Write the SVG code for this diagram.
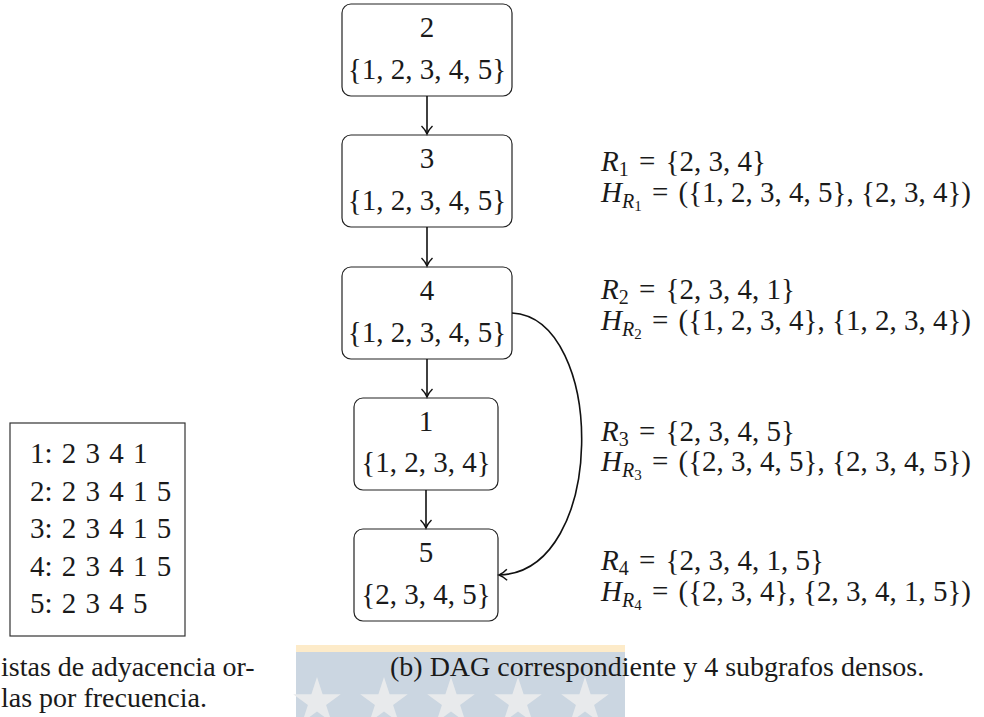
<svg xmlns="http://www.w3.org/2000/svg" width="984" height="717" viewBox="0 0 984 717" font-family="'Liberation Serif', 'Times New Roman', serif">
<style>
text { font-family: "Liberation Serif", "Times New Roman", serif; fill: #1a1a1a; }
.t { font-size: 29px; }
.c { font-size: 28px; }
.n { fill: #ffffff; stroke: #222222; stroke-width: 1.2; }
.e { fill: none; stroke: #111111; stroke-width: 1.6; }
.i { font-style: italic; }
.s { font-size: 20px; }
.ss { font-size: 15px; }
</style>
<defs>
<marker id="arr" markerWidth="14" markerHeight="14" viewBox="-10 -7 11 14" refX="0" refY="0" orient="auto" markerUnits="userSpaceOnUse">
<path d="M -8 -5.5 C -5 -2.4 -1.6 -0.6 0 0 C -1.6 0.6 -5 2.4 -8 5.5" fill="none" stroke="#111111" stroke-width="1.4"/>
</marker>
<polygon id="star" points="0,-25 5.61,-7.73 23.78,-7.73 9.08,2.95 14.69,20.23 0,9.55 -14.69,20.23 -9.08,2.95 -23.78,-7.73 -5.61,-7.73"/>
</defs>
<g id="watermark">
<rect x="296" y="645" width="329" height="8" fill="#fdebc9"/>
<rect x="296" y="652" width="329" height="65" fill="#cbd6e1"/>
<g fill="#e8eaec">
<use href="#star" x="317" y="702"/>
<use href="#star" x="384" y="702"/>
<use href="#star" x="451" y="702"/>
<use href="#star" x="518" y="702"/>
<use href="#star" x="585" y="702"/>
</g>
</g>
<g id="node2">
<rect class="n" x="342" y="4" width="170" height="92" rx="9"/>
<text class="t" x="427" y="37" text-anchor="middle">2</text>
<text class="t" x="427" y="79" text-anchor="middle">{1, 2, 3, 4, 5}</text>
</g>
<g id="node3">
<rect class="n" x="342" y="135" width="170" height="92" rx="9"/>
<text class="t" x="427" y="168" text-anchor="middle">3</text>
<text class="t" x="427" y="210" text-anchor="middle">{1, 2, 3, 4, 5}</text>
</g>
<g id="node4">
<rect class="n" x="342" y="267" width="170" height="92" rx="9"/>
<text class="t" x="427" y="300" text-anchor="middle">4</text>
<text class="t" x="427" y="342" text-anchor="middle">{1, 2, 3, 4, 5}</text>
</g>
<g id="node1">
<rect class="n" x="354" y="398" width="144" height="92" rx="9"/>
<text class="t" x="426" y="431" text-anchor="middle">1</text>
<text class="t" x="426" y="472" text-anchor="middle">{1, 2, 3, 4}</text>
</g>
<g id="node5">
<rect class="n" x="354" y="529" width="144" height="92" rx="9"/>
<text class="t" x="426" y="562" text-anchor="middle">5</text>
<text class="t" x="426" y="604" text-anchor="middle">{2, 3, 4, 5}</text>
</g>
<g id="connectors">
<line class="e" x1="427" y1="96" x2="427" y2="134" marker-end="url(#arr)"/>
<line class="e" x1="427" y1="227" x2="427" y2="266" marker-end="url(#arr)"/>
<line class="e" x1="427" y1="359" x2="427" y2="397" marker-end="url(#arr)"/>
<line class="e" x1="426" y1="490" x2="426" y2="528" marker-end="url(#arr)"/>
<path class="e" d="M 512 313 C 606 318, 608 572, 499 575" marker-end="url(#arr)"/>
</g>
<g id="subgraphs">
<text class="t" x="601" y="171"><tspan class="i">R</tspan><tspan class="s" dy="5">1</tspan><tspan dy="-5" xml:space="preserve"> </tspan><tspan dx="3">=</tspan><tspan dx="3" xml:space="preserve"> {2, 3, 4}</tspan></text>
<text class="t" x="601" y="202"><tspan class="i">H</tspan><tspan class="i s" dy="6">R</tspan><tspan class="ss" dy="3">1</tspan><tspan dy="-9" xml:space="preserve"> </tspan><tspan dx="3">=</tspan><tspan dx="3" xml:space="preserve"> ({1, 2, 3, 4, 5}, {2, 3, 4})</tspan></text>
<text class="t" x="601" y="299"><tspan class="i">R</tspan><tspan class="s" dy="5">2</tspan><tspan dy="-5" xml:space="preserve"> </tspan><tspan dx="3">=</tspan><tspan dx="3" xml:space="preserve"> {2, 3, 4, 1}</tspan></text>
<text class="t" x="601" y="330"><tspan class="i">H</tspan><tspan class="i s" dy="6">R</tspan><tspan class="ss" dy="3">2</tspan><tspan dy="-9" xml:space="preserve"> </tspan><tspan dx="3">=</tspan><tspan dx="3" xml:space="preserve"> ({1, 2, 3, 4}, {1, 2, 3, 4})</tspan></text>
<text class="t" x="601" y="441"><tspan class="i">R</tspan><tspan class="s" dy="5">3</tspan><tspan dy="-5" xml:space="preserve"> </tspan><tspan dx="3">=</tspan><tspan dx="3" xml:space="preserve"> {2, 3, 4, 5}</tspan></text>
<text class="t" x="601" y="471"><tspan class="i">H</tspan><tspan class="i s" dy="6">R</tspan><tspan class="ss" dy="3">3</tspan><tspan dy="-9" xml:space="preserve"> </tspan><tspan dx="3">=</tspan><tspan dx="3" xml:space="preserve"> ({2, 3, 4, 5}, {2, 3, 4, 5})</tspan></text>
<text class="t" x="601" y="570"><tspan class="i">R</tspan><tspan class="s" dy="5">4</tspan><tspan dy="-5" xml:space="preserve"> </tspan><tspan dx="3">=</tspan><tspan dx="3" xml:space="preserve"> {2, 3, 4, 1, 5}</tspan></text>
<text class="t" x="601" y="601"><tspan class="i">H</tspan><tspan class="i s" dy="6">R</tspan><tspan class="ss" dy="3">4</tspan><tspan dy="-9" xml:space="preserve"> </tspan><tspan dx="3">=</tspan><tspan dx="3" xml:space="preserve"> ({2, 3, 4}, {2, 3, 4, 1, 5})</tspan></text>
</g>
<g id="adjacency-lists">
<rect x="10" y="423" width="175" height="213" fill="#ffffff" stroke="#333333" stroke-width="1.2"/>
<text class="t" x="30" y="463" word-spacing="2">1: 2 3 4 1</text>
<text class="t" x="30" y="500.5" word-spacing="2">2: 2 3 4 1 5</text>
<text class="t" x="30" y="538" word-spacing="2">3: 2 3 4 1 5</text>
<text class="t" x="30" y="575.5" word-spacing="2">4: 2 3 4 1 5</text>
<text class="t" x="30" y="613" word-spacing="2">5: 2 3 4 5</text>
</g>
<g id="captions">
<text class="c" x="1" y="676">istas de adyacencia or-</text>
<text class="c" x="1" y="707">las por frecuencia.</text>
<text class="c" x="390" y="676">(b) DAG correspondiente y 4 subgrafos densos.</text>
</g>
</svg>
